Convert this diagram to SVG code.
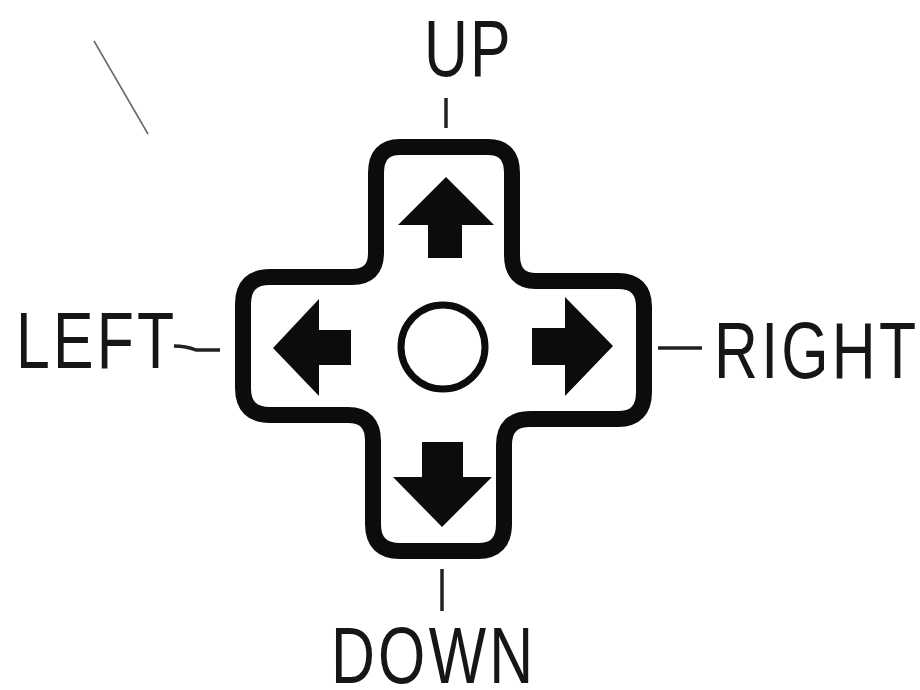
<svg xmlns="http://www.w3.org/2000/svg" width="920" height="690" viewBox="0 0 920 690">
<style>
.t{font-family:"Liberation Sans",Arial,sans-serif;font-size:80px;fill:#161616}
.l{stroke:#222;stroke-width:3.5;fill:none}
.a{fill:#0c0c0c}
</style>
<rect width="920" height="690" fill="#fff"/>
<g id="connectors">
<path class="l" d="M446 98V128"/>
<path class="l" d="M174 346Q186 346 196 350H220"/>
<path class="l" d="M658 348H702"/>
<path class="l" d="M442 569V611"/>
<path d="M94 41L148 134" stroke="#666" stroke-width="1.5" fill="none"/>
</g>
<g id="dpad">
<path d="M400 147H488Q512 147 512 173V255Q512 281 536 281H618Q644 281 644 307V392Q644 419 618 419H530Q504 419 504 445V524Q504 551 478 551H400Q373 551 373 524V441Q373 415 348 415H270Q243 415 243 388V304Q243 277 270 277H352Q376 277 376 253V173Q376 147 400 147Z" fill="#fff" stroke="#0c0c0c" stroke-width="16" stroke-linejoin="round"/>
<circle cx="443" cy="347" r="42" fill="#fff" stroke="#0c0c0c" stroke-width="7"/>
</g>
<g id="arrow-up"><path class="a" d="M446 177L494 225H462V258H428V225H398Z"/></g>
<g id="arrow-down"><path class="a" d="M422 442H463V477H492L442 527L393 477H422Z"/></g>
<g id="arrow-left"><path class="a" d="M273 348L319 299V330H351V365H319V396Z"/></g>
<g id="arrow-right"><path class="a" d="M613 346L565 396V365H532V328H565V297Z"/></g>
<g id="label-up"><text class="t" transform="translate(424 76) scale(.76 1)" textLength="114" lengthAdjust="spacing">UP</text></g>
<g id="label-left"><text class="t" transform="translate(16 368) scale(.76 1)" textLength="208" lengthAdjust="spacing">LEFT</text></g>
<g id="label-right"><text class="t" transform="translate(714 378) scale(.76 1)" textLength="266" lengthAdjust="spacing">RIGHT</text></g>
<g id="label-down"><text class="t" transform="translate(331 683) scale(.76 1)" textLength="266" lengthAdjust="spacing">DOWN</text></g>
</svg>
